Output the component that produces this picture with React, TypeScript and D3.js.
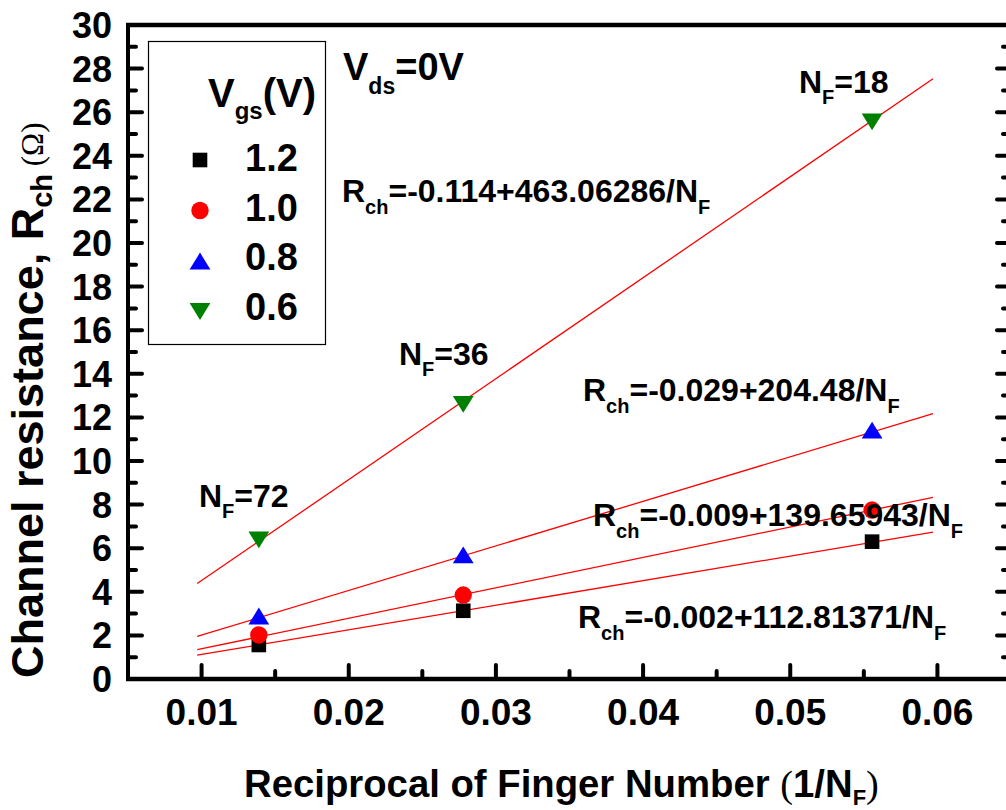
import React from 'react';
import * as d3 from 'd3';

// Reciprocal of finger number (1/N_F) for N_F = 72, 36, 18
const xRecip = [0.01389, 0.02778, 0.05556];
const fingerLabels = ['72', '36', '18'];

// Measured channel resistance (Ohm) per Vgs
const vgsLabels = ['1.2', '1.0', '0.8', '0.6'];
const rchVgs12 = [1.56, 3.13, 6.3];
const rchVgs10 = [2.02, 3.85, 7.75];
const rchVgs08 = [2.89, 5.69, 11.42];
const rchVgs06 = [6.38, 12.6, 25.56];

// Linear fits R = a + b / N_F
const fitIntercepts = [-0.002, -0.009, -0.029, -0.114];
const fitSlopes = [112.81371, 139.65943, 204.48, 463.06286];
const fitInterceptText = ['-0.002', '-0.009', '-0.029', '-0.114'];
const fitSlopeText = ['112.81371', '139.65943', '204.48', '463.06286'];
const fitRange = [0.0097, 0.0597];

const xTicks = [0.01, 0.02, 0.03, 0.04, 0.05, 0.06];
const xMinor = [0.015, 0.025, 0.035, 0.045, 0.055];
const yTicks = [0, 2, 4, 6, 8, 10, 12, 14, 16, 18, 20, 22, 24, 26, 28, 30];
const yMinor = [1, 3, 5, 7, 9, 11, 13, 15, 17, 19, 21, 23, 25, 27, 29];

const series = [rchVgs12, rchVgs10, rchVgs08, rchVgs06];
const colors = ['#000000', '#ff0000', '#0000ff', '#008000'];
const shapes = ['square', 'circle', 'up', 'down'];

const FONT = "'Liberation Sans', Arial, Helvetica, sans-serif";
const SERIF = "'Liberation Serif', 'Times New Roman', serif";

function marker(shape: string, cx: number, cy: number, color: string, key?: any) {
  if (shape === 'square') {
    return <rect key={key} x={cx - 7.3} y={cy - 7.3} width={14.6} height={14.6} fill={color} />;
  }
  if (shape === 'circle') {
    return <circle key={key} cx={cx} cy={cy} r={8.7} fill={color} />;
  }
  if (shape === 'up') {
    return (
      <path key={key} d={`M${cx - 10.4},${cy + 8.4}L${cx + 10.4},${cy + 8.4}L${cx},${cy - 8.4}Z`} fill={color} />
    );
  }
  return (
    <path key={key} d={`M${cx - 10.4},${cy - 8.4}L${cx + 10.4},${cy - 8.4}L${cx},${cy + 8.4}Z`} fill={color} />
  );
}

function SubText({ x, y, main, sub, rest, size, subSize, subDy, anchor, transform }: any) {
  return (
    <text
      x={x}
      y={y}
      fontFamily={FONT}
      fontWeight="bold"
      fontSize={size}
      textAnchor={anchor || 'start'}
      transform={transform}
      fill="#000"
    >
      <tspan>{main}</tspan>
      <tspan fontSize={subSize} dy={subDy}>{sub}</tspan>
      <tspan dy={-subDy}>{rest}</tspan>
    </text>
  );
}

export default function App() {
  const W = 1006;
  const H = 810;
  const x = d3.scaleLinear().domain([0.005, 0.065]).range([128, 1011]);
  const y = d3.scaleLinear().domain([0, 30]).range([679, 25]);

  const left = x.range()[0];
  const right = x.range()[1];
  const top = y.range()[1];
  const bottom = y.range()[0];

  return (
    <svg
      width={W}
      height={H}
      style={{ position: 'absolute', left: 0, top: 0, background: '#fff' }}
    >
      <rect x={0} y={0} width={W} height={H} fill="#fff" />

      {/* fit lines */}
      {fitIntercepts.map((a, i) => {
        const b = fitSlopes[i];
        const pts: [number, number][] = fitRange.map((xv) => [x(xv), y(a + b * xv)]);
        return (
          <path
            key={'fit' + i}
            d={d3.line()(pts) || ''}
            stroke="#ff0000"
            strokeWidth={1.3}
            fill="none"
          />
        );
      })}

      {/* data markers */}
      {series.map((vals, si) =>
        vals.map((v, j) => marker(shapes[si], x(xRecip[j]), y(v), colors[si], `m${si}-${j}`))
      )}

      {/* axes frame */}
      <line x1={left} x2={left} y1={top} y2={bottom} stroke="#000" strokeWidth={4} />
      <line x1={right} x2={right} y1={top} y2={bottom} stroke="#000" strokeWidth={4} />
      <line x1={left - 2} x2={right + 2} y1={top} y2={top} stroke="#000" strokeWidth={4.5} />
      <line x1={left - 2} x2={right + 2} y1={bottom} y2={bottom} stroke="#000" strokeWidth={4.5} />

      {/* x ticks */}
      {xTicks.map((t) => (
        <line key={'xt' + t} x1={x(t)} x2={x(t)} y1={bottom} y2={bottom - 14} stroke="#000" strokeWidth={4} strokeLinecap="round" />
      ))}
      {xMinor.map((t) => (
        <line key={'xm' + t} x1={x(t)} x2={x(t)} y1={bottom} y2={bottom - 8} stroke="#000" strokeWidth={4} strokeLinecap="round" />
      ))}
      {/* y ticks left and right */}
      {yTicks.map((t) => (
        <g key={'yt' + t}>
          <line x1={left} x2={left + 14} y1={y(t)} y2={y(t)} stroke="#000" strokeWidth={4} strokeLinecap="round" />
          <line x1={right} x2={right - 14} y1={y(t)} y2={y(t)} stroke="#000" strokeWidth={4} strokeLinecap="round" />
        </g>
      ))}
      {yMinor.map((t) => (
        <g key={'ym' + t}>
          <line x1={left} x2={left + 8} y1={y(t)} y2={y(t)} stroke="#000" strokeWidth={4} strokeLinecap="round" />
          <line x1={right} x2={right - 8} y1={y(t)} y2={y(t)} stroke="#000" strokeWidth={4} strokeLinecap="round" />
        </g>
      ))}

      {/* tick labels */}
      {xTicks.map((t) => (
        <text
          key={'xl' + t}
          x={x(t)}
          y={725}
          textAnchor="middle"
          fontFamily={FONT}
          fontWeight="bold"
          fontSize={37}
        >
          {d3.format('.2f')(t)}
        </text>
      ))}
      {yTicks.map((t) => (
        <text
          key={'yl' + t}
          x={112}
          y={y(t)}
          dy="0.36em"
          textAnchor="end"
          fontFamily={FONT}
          fontWeight="bold"
          fontSize={36}
        >
          {t}
        </text>
      ))}

      {/* axis titles */}
      <text
        transform="translate(43,678) rotate(-90)"
        fontFamily={FONT}
        fontWeight="bold"
        fontSize={45}
      >
        <tspan>Channel resistance, R</tspan>
        <tspan fontSize={29} dy={9}>ch</tspan>
        <tspan dy={-9} fontSize={31} fontFamily={SERIF} fontWeight="normal">{'\u00A0(\u03A9)'}</tspan>
      </text>

      <text x={244} y={797} fontFamily={FONT} fontWeight="bold" fontSize={38.3}>
        <tspan>Reciprocal of Finger Number </tspan>
        <tspan fontFamily={SERIF} fontWeight="normal">(</tspan>
        <tspan>1/N</tspan>
        <tspan fontSize={22} dy={8}>F</tspan>
        <tspan dy={-8} fontFamily={SERIF} fontWeight="normal">)</tspan>
      </text>

      {/* legend */}
      <rect x={148.5} y={41.5} width={177} height={303} fill="none" stroke="#000" strokeWidth={1.2} />
      <SubText x={208} y={107} main="V" sub="gs" rest="(V)" size={40} subSize={24} subDy={12} />
      {vgsLabels.map((lab, i) => (
        <g key={'leg' + i}>
          {marker(shapes[i], 200, 160 + i * 50.5, colors[i])}
          <text x={245} y={171 + i * 49.5} fontFamily={FONT} fontWeight="bold" fontSize={38}>
            {lab}
          </text>
        </g>
      ))}

      {/* Vds annotation */}
      <SubText x={343} y={80} main="V" sub="ds" rest="=0V" size={38} subSize={23} subDy={14} />

      {/* N_F labels */}
      <SubText x={199} y={507} main="N" sub="F" rest={'=' + fingerLabels[0]} size={32} subSize={20} subDy={11} />
      <SubText x={399} y={365} main="N" sub="F" rest={'=' + fingerLabels[1]} size={32} subSize={20} subDy={11} />
      <SubText x={799} y={93} main="N" sub="F" rest={'=' + fingerLabels[2]} size={32} subSize={20} subDy={11} />

      {/* fit equations */}
      {[
        { px: 342, py: 202, i: 3 },
        { px: 583, py: 401, i: 2 },
        { px: 593, py: 526, i: 1 },
        { px: 578, py: 628, i: 0 },
      ].map(({ px, py, i }) => (
        <text key={'eq' + i} x={px} y={py} fontFamily={FONT} fontWeight="bold" fontSize={32}>
          <tspan>R</tspan>
          <tspan fontSize={20} dy={12}>ch</tspan>
          <tspan dy={-12}>{`=${fitInterceptText[i]}+${fitSlopeText[i]}/N`}</tspan>
          <tspan fontSize={20} dy={12}>F</tspan>
        </text>
      ))}
    </svg>
  );
}
